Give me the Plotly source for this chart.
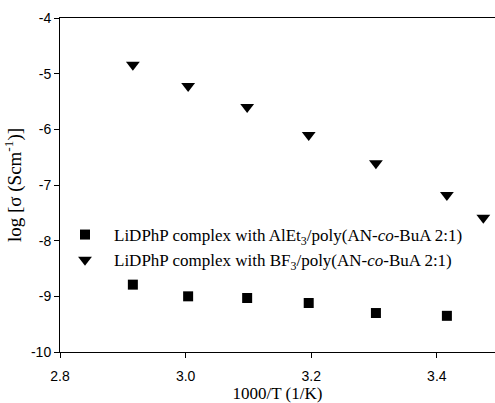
import plotly.graph_objects as go

# log sigma, AlEt3 complex (squares)
alet3_x = [2.916, 3.004, 3.098, 3.196, 3.303, 3.416]
alet3_y = [-8.79, -9.00, -9.03, -9.12, -9.30, -9.35]
# log sigma, BF3 complex (down triangles)
bf3_x = [2.916, 3.004, 3.098, 3.196, 3.303, 3.416, 3.474]
bf3_y = [-4.84, -5.22, -5.60, -6.10, -6.61, -7.18, -7.59]

x_ticks = [2.8, 3.0, 3.2, 3.4]
x_ticklabels = ["2.8", "3.0", "3.2", "3.4"]
y_ticks = [-10, -9, -8, -7, -6, -5, -4]
y_ticklabels = ["-10", "-9", "-8", "-7", "-6", "-5", "-4"]

serif = "Liberation Serif, Times New Roman, serif"
sans = "Liberation Sans, Arial, sans-serif"

fig = go.Figure()
fig.add_trace(go.Scatter(
    x=alet3_x, y=alet3_y, mode="markers",
    name="LiDPhP complex with AlEt<sub>3</sub>/poly(AN-<i>co</i>-BuA 2:1)",
    marker=dict(symbol="square", size=10, color="black"),
    legendgroup="a",
))
fig.add_trace(go.Scatter(
    x=bf3_x, y=bf3_y, mode="markers",
    name="LiDPhP complex with BF<sub>3</sub>/poly(AN-<i>co</i>-BuA 2:1)",
    marker=dict(symbol="triangle-down", size=12, color="black"),
    legendgroup="b",
))

fig.update_layout(
    width=495, height=403,
    margin=dict(l=60, r=0, t=18, b=51),
    paper_bgcolor="white", plot_bgcolor="white",
    showlegend=True,
    legend=dict(
        x=(56 - 60) / 435, y=(352 - 217) / 334, xanchor="left", yanchor="top",
        bgcolor="rgba(0,0,0,0)", borderwidth=0,
        font=dict(family=serif, size=17, color="black"),
        itemwidth=48, traceorder="grouped", tracegroupgap=0,
    ),
    xaxis=dict(
        range=[2.8, 3.4926], tickvals=x_ticks, ticktext=x_ticklabels,
        showgrid=False, zeroline=False, showline=True, linecolor="black", linewidth=1,
        mirror=True, ticks="outside", ticklen=5, tickcolor="black",
        ticklabelstandoff=6, automargin=False,
        tickfont=dict(family=sans, size=14, color="black"),
        title=dict(text="1000/T (1/K)", font=dict(family=serif, size=17, color="black"), standoff=9),
    ),
    yaxis=dict(
        range=[-10, -4], tickvals=y_ticks, ticktext=y_ticklabels,
        showgrid=False, zeroline=False, showline=True, linecolor="black", linewidth=1,
        ticks="outside", ticklen=5, tickcolor="black", automargin=False,
        tickfont=dict(family=sans, size=14, color="black"),
        title=dict(text="log [σ (Scm<sup>-1</sup>)]", font=dict(family=serif, size=19, color="black"), standoff=4),
    ),
)

fig.write_html("out.html")
